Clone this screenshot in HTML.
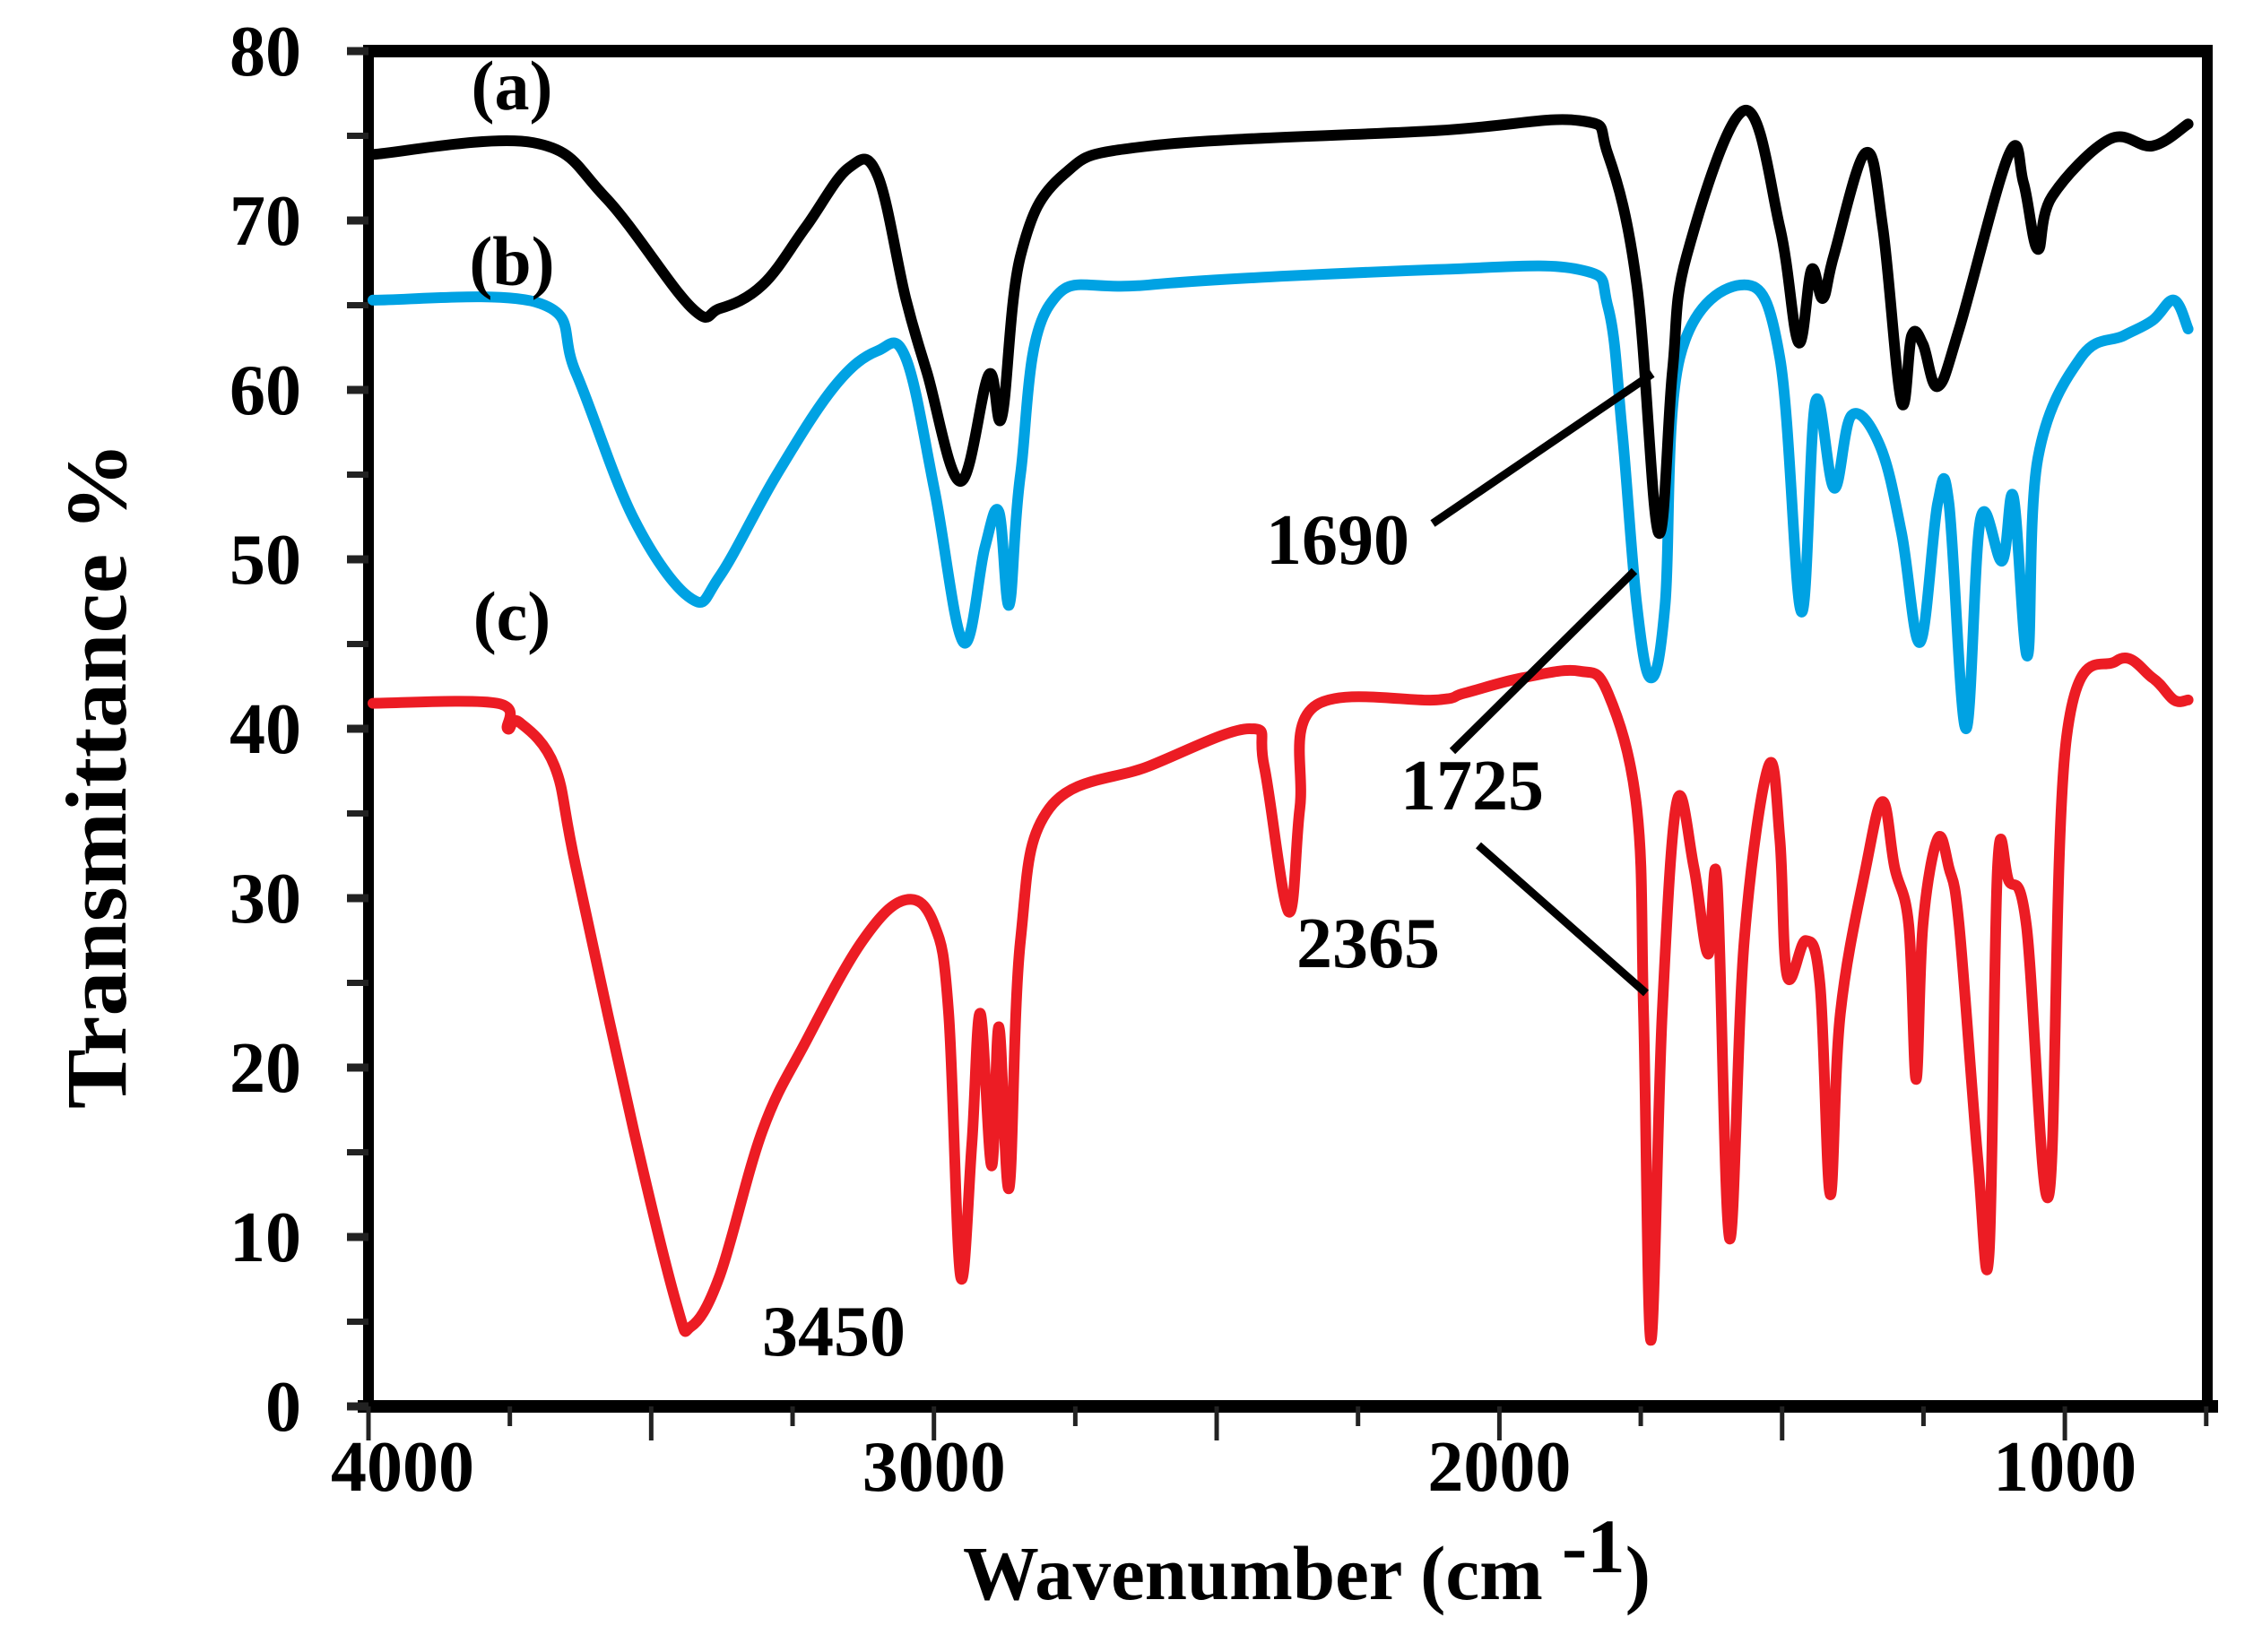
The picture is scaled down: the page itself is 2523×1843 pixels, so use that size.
<!DOCTYPE html>
<html><head><meta charset="utf-8"><style>
html,body{margin:0;padding:0;background:#fff;}
svg{display:block;}
text{font-family:"Liberation Serif",serif;font-weight:bold;fill:#000;}
</style></head><body>
<svg id="chart" width="2523" height="1843" viewBox="0 0 2523 1843" xmlns="http://www.w3.org/2000/svg">
<g id="plot"></g>
</svg>
<script>
const wnA=[3992,3709,3582,3430,3379,3303,3227,3151,3100,3050,3012,2953,2903,2880,2847,2771,2619,2112,1859,1808,1757,1719,1694,1669,1567,1504,1471,1448,1428,1408,1352,1322,1289,1271,1251,1225,1187,1099,1073,1048,1023,921,845,782];
const tA=[73.9,74.6,71.4,64.9,64.8,66.2,69.6,73.1,72.7,65.4,61.0,54.6,60.9,58.4,67.9,72.7,74.4,75.3,75.9,73.9,66.2,51.6,61.1,67.9,76.5,69.6,62.8,67.1,65.4,68.0,74.0,69.6,59.3,63.2,62.7,60.2,63.6,73.9,72.2,68.3,71.4,74.8,74.4,75.7];
const wnB=[3992,3696,3633,3531,3430,3379,3278,3176,3100,3050,2999,2948,2910,2885,2867,2847,2796,2619,2112,1859,1808,1783,1757,1732,1707,1681,1567,1504,1466,1441,1408,1377,1327,1289,1256,1225,1205,1175,1149,1111,1091,1066,1048,972,896,845,807,782];
const tB=[65.3,65.1,61.0,52.4,47.7,49.0,55.0,60.2,62.3,61.9,54.1,45.1,50.7,52.8,47.3,55.0,65.0,66.2,67.1,67.1,64.9,57.6,47.3,43.0,47.3,61.9,66.2,61.9,46.9,59.3,54.2,58.5,56.7,51.6,45.1,53.3,53.3,40.0,52.4,49.9,53.7,44.3,55.9,61.9,63.2,64.1,65.3,63.6];
const wnC=[3992,3772,3754,3734,3671,3633,3531,3455,3430,3379,3303,3227,3126,3050,2999,2974,2953,2933,2918,2898,2885,2867,2847,2796,2619,2442,2416,2373,2353,2328,2112,2062,1960,1859,1808,1757,1745,1732,1712,1686,1656,1631,1615,1593,1567,1524,1504,1491,1458,1433,1415,1397,1352,1322,1301,1276,1263,1251,1225,1205,1187,1154,1134,1119,1099,1068,1028,997,909,845,807,782];
const tC=[41.5,41.5,40.0,40.4,37.8,31.8,16.3,6.0,4.7,7.7,16.3,21.5,27.5,29.9,28.4,23.2,7.7,15.5,23.2,14.2,22.4,12.9,27.5,35.3,37.8,40.0,37.8,29.2,35.3,41.3,41.7,42.1,43.0,43.4,42.1,35.3,23.2,3.9,23.2,35.7,31.8,26.7,31.0,9.9,27.5,37.8,33.5,25.4,27.5,24.9,12.5,23.2,31.8,35.7,31.8,28.4,19.3,28.4,33.5,31.8,28.4,14.6,9.0,31.8,31.0,28.4,12.5,39.5,44.0,43.0,41.7,41.7];
const yTicks=[0,10,20,30,40,50,60,70,80];
const xTickLabels=[4000,3000,2000,1000];

const NS="http://www.w3.org/2000/svg";
const plot=document.getElementById('plot');
const X0=411,X1=2462,Y0=1569,YT=57;
function xs(w){return X0+(4000-w)*0.6307;}
function ys(t){return Y0-t*(Y0-YT)/80;}
function mk(tag,attrs,parent){const e=document.createElementNS(NS,tag);for(const k in attrs)e.setAttribute(k,attrs[k]);(parent||plot).appendChild(e);return e;}

let e=mk('line',{x1:X0,y1:YT,x2:X1+6,y2:YT,stroke:'#000','stroke-width':14});


e=mk('line',{x1:X1,y1:YT-7,x2:X1,y2:Y0,stroke:'#000','stroke-width':12});


e=mk('line',{x1:X0,y1:YT-7,x2:X0,y2:Y0,stroke:'#000','stroke-width':12});


e=mk('line',{x1:X0-12,y1:Y0,x2:X1+12,y2:Y0,stroke:'#000','stroke-width':14});



for(let v=0;v<=80;v+=5){
  const t=mk('line',{x1:X0-24,y1:ys(v),x2:X0,y2:ys(v),stroke:'#222','stroke-width':(v%10===0)?9:7});
  
  
}
yTicks.forEach(v=>{
  const t=mk('text',{x:336,y:ys(v)+27,'text-anchor':'end','font-size':80});
  t.textContent=v;
  
  
});
for(let w=4000;w>=750;w-=250){
  const t=mk('line',{x1:xs(w),y1:Y0,x2:xs(w),y2:Y0+(w%500===0?38:22),stroke:'#222','stroke-width':5});
  
  
}
xTickLabels.forEach(w=>{
  const t=mk('text',{x:xs(w)+(w===4000?38:0),y:1663,'text-anchor':'middle','font-size':80});
  t.textContent=w;
  
  
});

function series(wn,tv,color,name){
  const P=wn.map((w,i)=>[xs(w),ys(tv[i])]);
  let d='M'+P[0][0].toFixed(1)+' '+P[0][1].toFixed(1);
  const k=0.18;
  for(let i=0;i<P.length-1;i++){
    const p0=P[Math.max(0,i-1)],p1=P[i],p2=P[i+1],p3=P[Math.min(P.length-1,i+2)];
    const c1x=p1[0]+(p2[0]-p0[0])*k,c1y=p1[1]+(p2[1]-p0[1])*k;
    const c2x=p2[0]-(p3[0]-p1[0])*k,c2y=p2[1]-(p3[1]-p1[1])*k;
    d+='C'+c1x.toFixed(1)+' '+c1y.toFixed(1)+' '+c2x.toFixed(1)+' '+c2y.toFixed(1)+' '+p2[0].toFixed(1)+' '+p2[1].toFixed(1);
  }
  const p=mk('path',{d:d,fill:'none',stroke:color,'stroke-width':12,'stroke-linejoin':'round','stroke-linecap':'round'});
  
  
}
series(wnC,tC,'#ec1c24','series-c-line');
series(wnB,tB,'#00a2e3','series-b-line');
series(wnA,tA,'#000','series-a-line');

[[1598,584,1843,417],[1620,838,1823,637],[1649,943,1836,1108]].forEach(l=>{
  const t=mk('line',{x1:l[0],y1:l[1],x2:l[2],y2:l[3],stroke:'#000','stroke-width':9});
  
  
});
</script>
<svg style="position:absolute;left:0;top:0" width="2523" height="1843">
<text x="571" y="122" text-anchor="middle" font-size="78">(a)</text>
<text x="571" y="318" text-anchor="middle" font-size="78">(b)</text>
<text x="571" y="714" text-anchor="middle" font-size="78">(c)</text>
<text x="1412" y="629" font-size="80">1690</text>
<text x="1562" y="903" font-size="80">1725</text>
<text x="1446" y="1079" font-size="80">2365</text>
<text x="850" y="1512" font-size="80">3450</text>
<text transform="translate(140,865) rotate(-90)" text-anchor="middle" font-size="96" textLength="744" lengthAdjust="spacingAndGlyphs">Transmittance %</text>
<text x="1074" y="1784" font-size="86" textLength="767" lengthAdjust="spacingAndGlyphs">Wavenumber (cm <tspan dy="-30">-1</tspan><tspan dy="30">)</tspan></text>
</svg>
</body></html>
